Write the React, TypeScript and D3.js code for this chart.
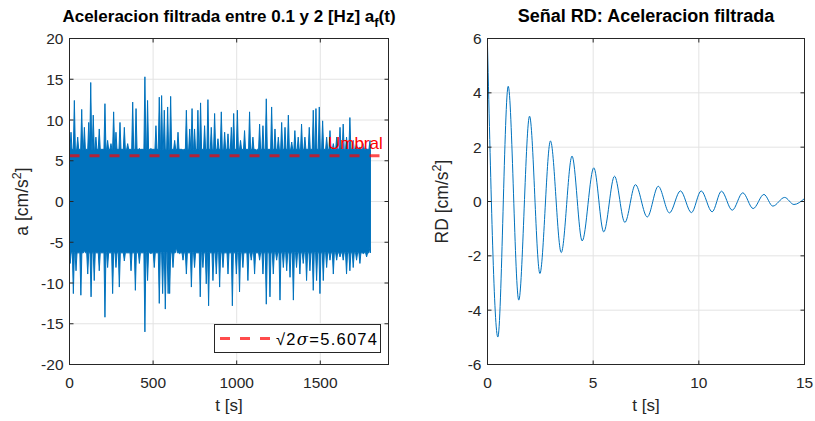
import React from 'react';
import * as d3 from 'd3';

const W = 815;
const H = 421;

// Left chart: filtered acceleration, local maxima / minima
const peakT = [9, 29, 49, 73, 89, 115, 127, 142, 158, 178, 212, 228, 248, 264, 278, 302, 328, 348, 378, 398, 418, 451, 467, 487, 517, 537, 551, 567, 587, 605, 629, 649, 679, 699, 719, 733, 748, 768, 784, 808, 828, 848, 868, 888, 908, 928, 948, 968, 982, 1004, 1023, 1047, 1077, 1097, 1117, 1137, 1157, 1177, 1209, 1229, 1249, 1269, 1289, 1309, 1329, 1348, 1368, 1388, 1408, 1434, 1458, 1474, 1494, 1514, 1538, 1558, 1578, 1598, 1618, 1637, 1657, 1677, 1697, 1717, 1737, 1757, 1777, 1797];
const peakA = [8.5, 12.4, 7.9, 11.3, 9.1, 9.7, 14.6, 10.6, 7.9, 8.9, 12.0, 7.5, 7.1, 11.0, 8.5, 9.7, 9.1, 7.1, 12.2, 11.4, 6.5, 15.3, 12.4, 6.5, 9.3, 12.8, 13.0, 11.2, 11.6, 12.9, 7.5, 8.5, 6.3, 11.2, 8.9, 11.4, 8.9, 11.2, 12.1, 9.3, 12.5, 9.1, 10.8, 7.7, 11.0, 8.5, 8.3, 9.1, 10.8, 11.2, 7.5, 8.7, 11.0, 7.9, 6.3, 9.5, 9.3, 12.6, 11.6, 8.9, 7.9, 9.7, 9.1, 10.6, 7.3, 8.7, 7.9, 9.5, 7.9, 9.1, 11.2, 11.4, 11.6, 9.9, 7.9, 8.7, 7.1, 7.9, 9.1, 9.5, 7.9, 10.3, 7.5, 7.1, 6.7, 7.1, 6.5, 7.5];
const troughT = [4, 23, 39, 68, 89, 109, 129, 148, 178, 212, 228, 258, 278, 298, 328, 368, 394, 418, 451, 467, 487, 507, 537, 557, 573, 590, 599, 619, 639, 659, 679, 699, 729, 748, 782, 798, 818, 832, 858, 878, 898, 918, 948, 974, 998, 1017, 1037, 1067, 1087, 1107, 1137, 1157, 1177, 1199, 1219, 1239, 1259, 1279, 1299, 1319, 1339, 1358, 1378, 1398, 1418, 1438, 1458, 1478, 1498, 1518, 1538, 1558, 1578, 1598, 1618, 1637, 1657, 1677, 1697, 1717, 1737, 1757, 1777, 1797];
const troughA = [-7.6, -11.3, -8.5, -11.5, -6.0, -8.9, -11.7, -9.7, -8.5, -14.2, -8.1, -11.3, -8.1, -10.5, -7.3, -8.5, -10.9, -7.6, -16.0, -9.7, -6.4, -8.1, -12.5, -11.3, -13.2, -11.3, -11.3, -8.1, -5.6, -6.4, -7.2, -8.9, -10.5, -8.1, -11.7, -8.1, -10.1, -12.8, -9.7, -8.9, -10.5, -8.1, -8.9, -12.8, -8.9, -11.1, -8.1, -9.7, -7.2, -8.9, -7.2, -8.9, -12.6, -11.7, -8.9, -7.2, -12.1, -8.1, -8.5, -9.3, -12.1, -8.1, -8.9, -7.6, -9.7, -8.5, -10.9, -9.7, -11.3, -9.7, -8.1, -7.2, -8.9, -7.2, -6.8, -7.2, -8.9, -8.5, -8.1, -7.2, -7.6, -6.4, -6.8, -5.6];
// edges of the solid core band of the record
const coreUpper = 6.4;
const coreLower = -6.3;
const recordEnd = 1800;
const threshold = 5.6074;
const leftYTicks = [-20, -15, -10, -5, 0, 5, 10, 15, 20];
const leftXTicks = [0, 500, 1000, 1500];

// Right chart: RD signature, extrema
const rdT = [0, 0.49, 0.98, 1.48, 1.99, 2.48, 2.98, 3.49, 4.0, 4.48, 5.03, 5.5, 6.01, 6.5, 7.0, 7.56, 8.08, 8.61, 9.13, 9.65, 10.11, 10.63, 11.07, 11.58, 12.08, 12.57, 13.08, 13.5, 14.06, 14.5, 15];
const rdV = [5.75, -4.99, 4.24, -3.63, 3.14, -2.65, 2.23, -1.88, 1.67, -1.45, 1.24, -1.12, 0.93, -0.77, 0.62, -0.57, 0.56, -0.42, 0.39, -0.41, 0.39, -0.38, 0.38, -0.32, 0.32, -0.26, 0.26, -0.17, 0.15, -0.11, 0.11];
const rightYTicks = [-6, -4, -2, 0, 2, 4, 6];
const rightXTicks = [0, 5, 10, 15];

const FONT = "'Liberation Sans', Arial, Helvetica, sans-serif";
const AX = '#262626';
const GRID = '#e3e3e3';
const BLUE = '#0072bd';

const top = 38.5;
const bottom = 364.5;

function Axes({ x, y, xTicks, yTicks, clipId, children, ylabel, ylabelX, title }: any) {
  const [x0, x1] = x.range();
  const tl = 4;
  return (
    <g>
      <rect x={x0} y={top} width={x1 - x0} height={bottom - top} fill="#fff" />
      {xTicks.map((t: number) => (
        <line key={'gx' + t} x1={x(t)} x2={x(t)} y1={top} y2={bottom} stroke={GRID} strokeWidth={1} />
      ))}
      {yTicks.map((t: number) => (
        <line key={'gy' + t} x1={x0} x2={x1} y1={y(t)} y2={y(t)} stroke={GRID} strokeWidth={1} />
      ))}
      <g clipPath={`url(#${clipId})`}>{children}</g>
      <rect x={x0} y={top} width={x1 - x0} height={bottom - top} fill="none" stroke={AX} strokeWidth={1} />
      {xTicks.map((t: number) => (
        <g key={'tx' + t}>
          <line x1={x(t)} x2={x(t)} y1={bottom} y2={bottom - tl} stroke={AX} />
          <line x1={x(t)} x2={x(t)} y1={top} y2={top + tl} stroke={AX} />
          <text x={x(t)} y={388} textAnchor="middle" fontSize={15.5} fill={AX} fontFamily={FONT}>{String(t)}</text>
        </g>
      ))}
      {yTicks.map((t: number) => (
        <g key={'ty' + t}>
          <line x1={x0} x2={x0 + tl} y1={y(t)} y2={y(t)} stroke={AX} />
          <line x1={x1} x2={x1 - tl} y1={y(t)} y2={y(t)} stroke={AX} />
          <text x={x0 - 6} y={y(t) + 5.5} textAnchor="end" fontSize={15.5} fill={AX} fontFamily={FONT}>{String(t)}</text>
        </g>
      ))}
      <text x={(x0 + x1) / 2} y={411} textAnchor="middle" fontSize={17} fill={AX} fontFamily={FONT}>t [s]</text>
      <text transform={`translate(${ylabelX},${(top + bottom) / 2}) rotate(-90)`} textAnchor="middle" fontSize={17.5} fill={AX} fontFamily={FONT}>
        {ylabel}[cm/s<tspan dy={-7} fontSize={12.5}>2</tspan><tspan dy={7}>]</tspan>
      </text>
      {title}
    </g>
  );
}

export default function App() {
  const xl = d3.scaleLinear().domain([0, 1908]).range([69.5, 388.5]);
  const yl = d3.scaleLinear().domain([-20, 20]).range([bottom, top]);
  const xr = d3.scaleLinear().domain([0, 15]).range([487.5, 804.5]);
  const yr = d3.scaleLinear().domain([-6, 6]).range([bottom, top]);

  // outline of the record: spikes rising from the core band
  const hw = 6;
  const upperPts: [number, number][] = [[0, coreUpper]];
  peakT.forEach((t, i) => {
    upperPts.push([Math.max(0, t - hw), coreUpper], [t, peakA[i]], [Math.min(recordEnd, t + hw), coreUpper]);
  });
  upperPts.push([recordEnd, coreUpper]);
  const lowerPts: [number, number][] = [[0, coreLower]];
  troughT.forEach((t, i) => {
    lowerPts.push([Math.max(0, t - hw), coreLower], [t, troughA[i]], [Math.min(recordEnd, t + hw), coreLower]);
  });
  lowerPts.push([recordEnd, coreLower]);
  const outline = upperPts.concat(lowerPts.slice().reverse());
  const sigPath = (d3.line<[number, number]>().x(d => xl(d[0])).y(d => yl(d[1]))(outline) || '') + 'Z';

  const rdPts: [number, number][] = rdT.map((t, i) => [t, rdV[i]]);
  const rdPath = d3.line<[number, number]>().x(d => xr(d[0])).y(d => yr(d[1])).curve(d3.curveMonotoneX)(rdPts) || '';

  const leftTitle = (
    <text x={(69.5 + 388.5) / 2} y={22} textAnchor="middle" fontSize={17} fontWeight="bold" fill="#000" fontFamily={FONT}>
      Aceleracion filtrada entre 0.1 y 2 [Hz] a<tspan dy={5} fontSize={13}>f</tspan><tspan dy={-5}>(t)</tspan>
    </text>
  );
  const rightTitle = (
    <text x={(487.5 + 804.5) / 2} y={22} textAnchor="middle" fontSize={18} fontWeight="bold" fill="#000" fontFamily={FONT}>
      Señal RD: Aceleracion filtrada
    </text>
  );

  return (
    <svg width={W} height={H} style={{ position: 'absolute', left: 0, top: 0, background: '#fff' }}>
      <defs>
        <clipPath id="clipL"><rect x={69.5} y={top} width={319} height={bottom - top} /></clipPath>
        <clipPath id="clipR"><rect x={487.5} y={top} width={317} height={bottom - top} /></clipPath>
      </defs>
      <rect width={W} height={H} fill="#fff" />
      <Axes x={xl} y={yl} xTicks={leftXTicks} yTicks={leftYTicks} clipId="clipL" ylabel="a " ylabelX={28} title={leftTitle}>
        <path d={sigPath} fill={BLUE} stroke={BLUE} strokeWidth={1} strokeLinejoin="round" />
        <line x1={xl(0)} x2={xl(1908)} y1={yl(threshold)} y2={yl(threshold)} stroke="#ff0000" strokeOpacity={0.7} strokeWidth={3} strokeDasharray="10,10" />
        <text x={xl(1546)} y={yl(6.5)} fontSize={17} fill="#ff0000" fontFamily={FONT}>Umbral</text>
      </Axes>
      <g>
        <rect x={214.5} y={324.5} width={166} height={28} fill="#fff" stroke={AX} strokeWidth={1} />
        <line x1={220} x2={270} y1={338.5} y2={338.5} stroke="#ff0000" strokeOpacity={0.7} strokeWidth={3} strokeDasharray="10,10" />
        <text x={276} y={345} fontSize={16.5} fill="#000" fontFamily={FONT} textLength={101} lengthAdjust="spacing">
          √2<tspan fontStyle="italic" fontFamily="'DejaVu Serif', serif">σ</tspan>=5.6074
        </text>
      </g>
      <Axes x={xr} y={yr} xTicks={rightXTicks} yTicks={rightYTicks} clipId="clipR" ylabel="RD " ylabelX={448} title={rightTitle}>
        <path d={rdPath} fill="none" stroke={BLUE} strokeWidth={1} />
      </Axes>
    </svg>
  );
}
